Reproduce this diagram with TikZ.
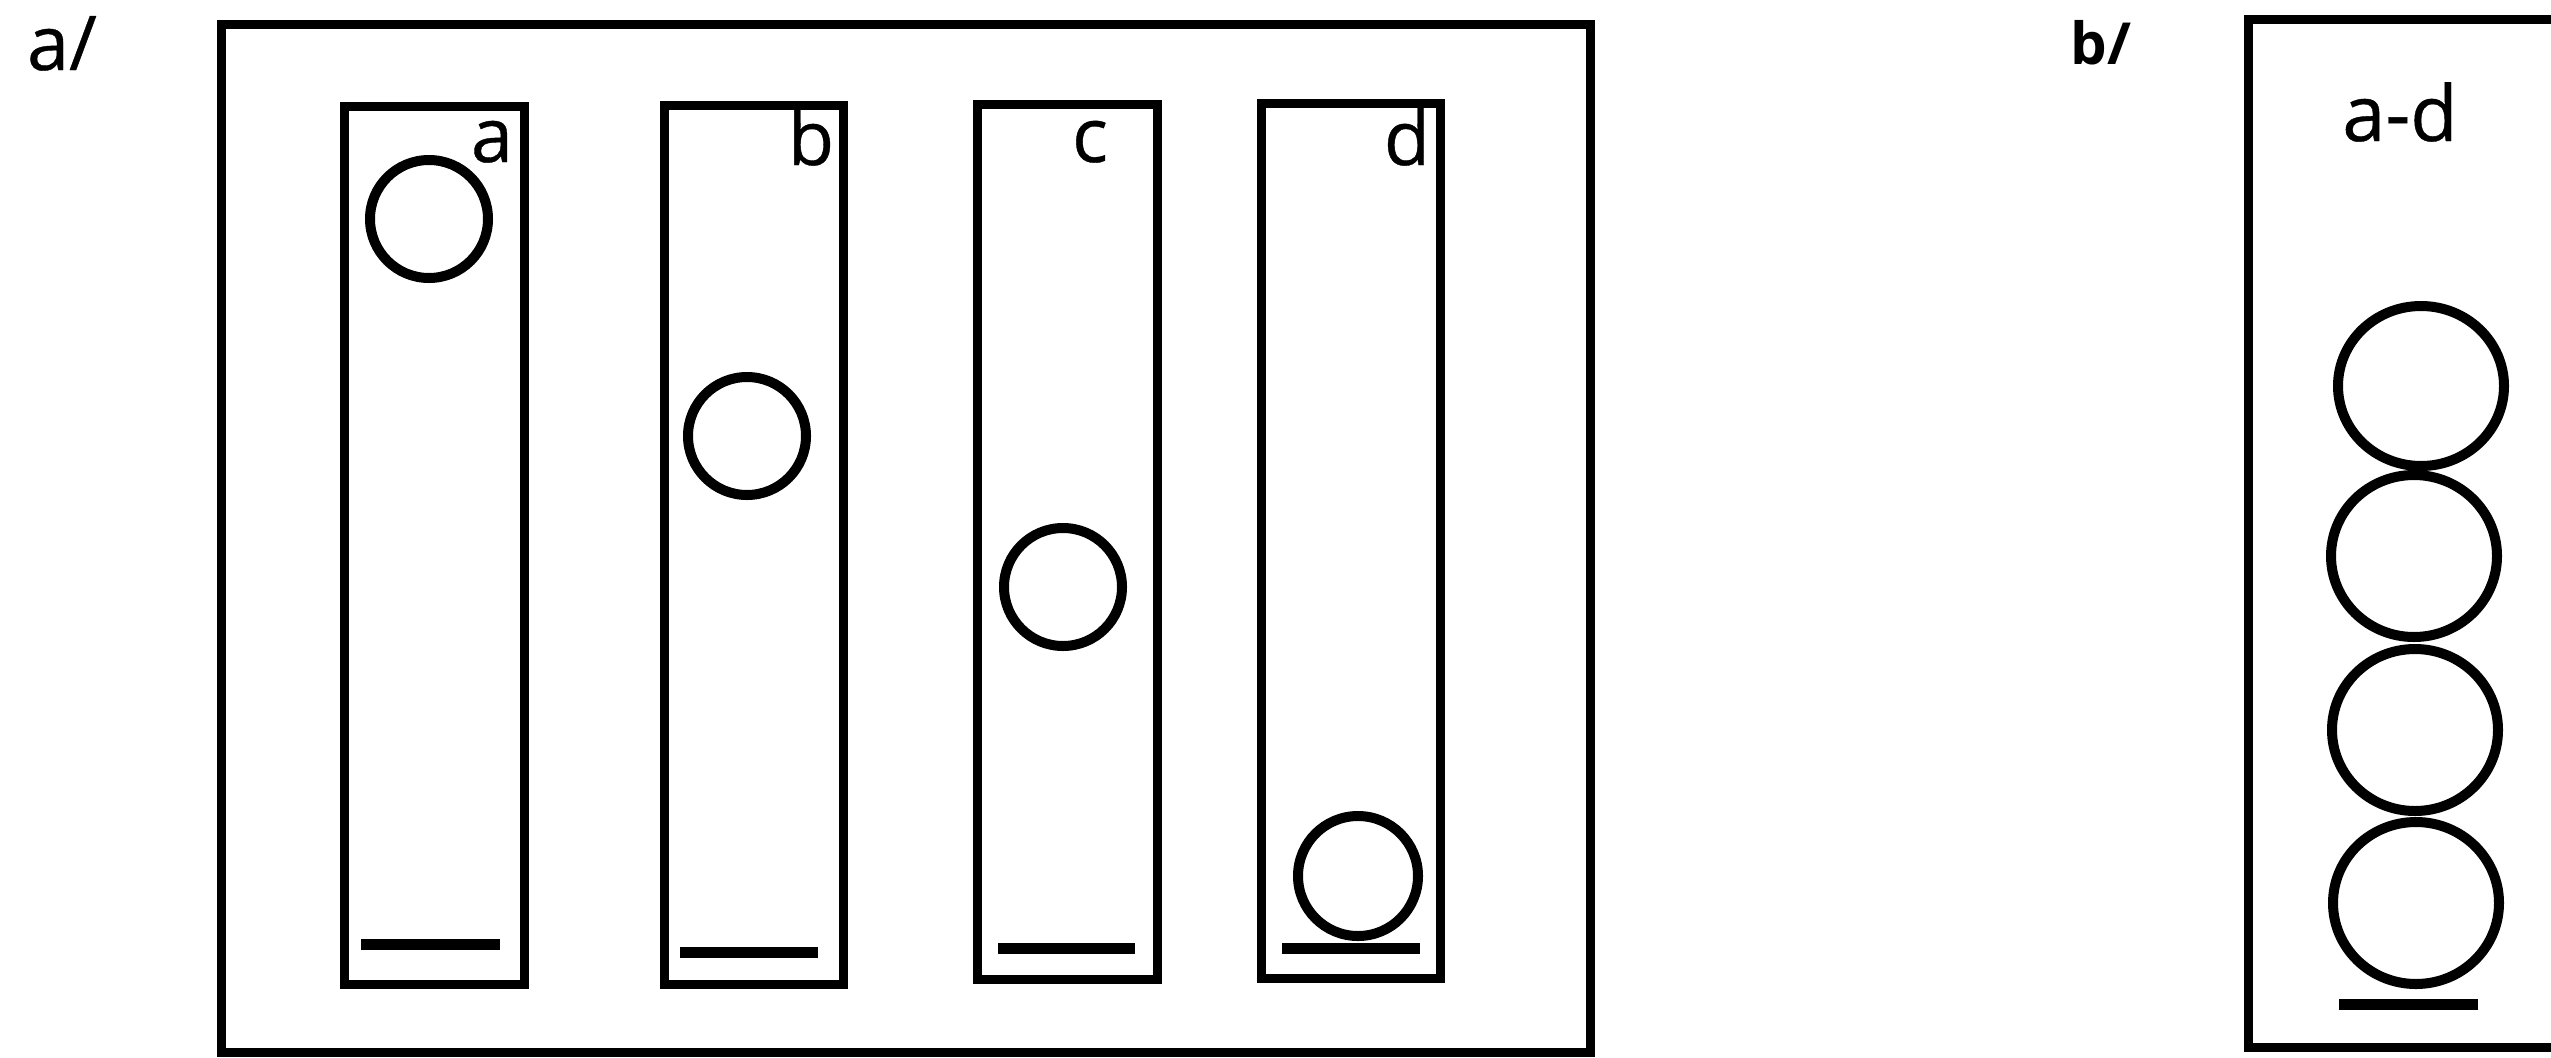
\documentclass[tikz,border=0pt]{standalone}
\usepackage{fontspec}
\setmainfont{Open Sans}
\newfontfamily\labfont[FakeBold=0.5]{Open Sans}
\begin{document}
\begin{tikzpicture}[x=0.01cm,y=-0.01cm,
  frame/.style={draw=black,line width=0.09cm},
  tube/.style={draw=black,line width=0.09cm},
  ball/.style={draw=black,line width=0.1cm},
  bar/.style={draw=black,line width=0.11cm},
  lab/.style={inner sep=0pt,anchor=base,font=\labfont\fontsize{21.5}{24}\selectfont}]
\useasboundingbox (0,0) rectangle (2551,1057);
\clip (0,0) rectangle (2551,1057);
% panel a
\node[lab] (pa) at (62,70) {a/};
\draw[frame] (221,24) rectangle (1590,1052);
% tubes
\draw[tube] (344,106) rectangle (524,984);
\draw[tube] (664,105) rectangle (843,984);
\draw[tube] (977,104) rectangle (1157,979);
\draw[tube] (1261,103) rectangle (1440,978);
% labels
\node[lab] (la) at (492,162) {a};
\node[lab] (lb) at (811,165) {b};
\node[lab] (lc) at (1090,162) {c};
\node[lab] (ld) at (1407,165) {d};
% balls
\draw[ball] (429,219) circle (59);
\draw[ball] (747,436) circle (59);
\draw[ball] (1063,587) circle (59);
\draw[ball] (1358,876) circle (60);
% bars
\draw[bar] (361,944) -- (500,944);
\draw[bar] (680,952) -- (818,952);
\draw[bar] (998,948) -- (1135,948);
\draw[bar] (1282,948) -- (1420,948);
% panel b
\node[inner sep=0pt,anchor=base,font=\fontsize{16.5}{19}\selectfont\bfseries] (pb) at (2101,64) {b/};
\draw[frame] (2248,19) rectangle (2700,1047);
\node[lab,font=\labfont\fontsize{22}{25}\selectfont] (lad) at (2400,141) {a-d};
\draw[ball] (2421,386) ellipse (83 and 80);
\draw[ball] (2414,556) ellipse (83 and 81);
\draw[ball] (2415,730) ellipse (83 and 81);
\draw[ball] (2416,903) ellipse (83 and 81);
\draw[bar] (2339,1004) -- (2478,1004);
\end{tikzpicture}
\end{document}
